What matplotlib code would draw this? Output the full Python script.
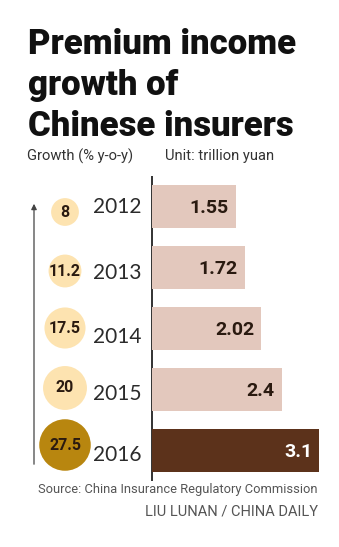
import numpy as np
import matplotlib.pyplot as plt

years = ['2012', '2013', '2014', '2015', '2016']
income = [1.55, 1.72, 2.02, 2.4, 3.1]          # trillion yuan
growth = [8, 11.2, 17.5, 20, 27.5]              # % y-o-y
growth_labels = ['8', '11.2', '17.5', '20', '27.5']

light_bar = '#e3c8bd'
dark_bar = '#5c321b'
light_dot = '#fde3b0'
dark_dot = '#b8860f'

W, H = 339, 547
fig = plt.figure(figsize=(W / 100, H / 100), dpi=100)
ax = fig.add_axes([0, 0, 1, 1])

# pixel layout: zero line at x=152, 54 px per trillion; rows 61 px apart from y=206.5
px_unit = 54.0
x0 = 152.0
row0, row_gap = 206.5, 61.0
ax.set_xlim(-x0 / px_unit, (W - x0) / px_unit)
ax.set_ylim((H - row0) / row_gap, -row0 / row_gap)
ax.axis('off')

def px(x):
    return (x - x0) / px_unit

def py(y):
    return (y - row0) / row_gap

pos = np.arange(len(years))
colors = [light_bar] * (len(years) - 1) + [dark_bar]
ax.barh(pos, income, height=0.71, color=colors, zorder=2)
ax.vlines(0, py(176), py(481), color='#222222', lw=1.3, zorder=1)

for i, v in enumerate(income):
    tc = 'white' if i == len(income) - 1 else '#2a1a10'
    ax.text(v - 0.13, i + 0.03, str(v), ha='right', va='center', fontsize=14,
            fontweight='bold', family='Roboto', color=tc, zorder=3)

# years
year_off = [0.0, 0.09, 0.14, 0.08, 0.07]
for i, y in enumerate(years):
    ax.text(px(141), i + year_off[i], y, ha='right', va='center', fontsize=15,
            family='Lato', color='#2b2b2b')

# growth bubbles
dot_cols = [light_dot] * (len(growth) - 1) + [dark_dot]
dot_y = [py(212), py(271), py(328), py(388), py(445)]
ax.scatter([px(65)] * len(growth), dot_y, s=np.array(growth) * 50,
           color=dot_cols, zorder=2, linewidths=0)
for i, g in enumerate(growth_labels):
    ax.text(px(65), dot_y[i], g, ha='center', va='center', fontsize=11.5,
            fontweight='bold', family='Roboto', color='#2a1a10', zorder=3)

# arrow
ax.annotate('', xy=(px(34), py(201)), xytext=(px(34), py(467)),
            arrowprops=dict(arrowstyle='-|>', color='#444444', lw=0.9,
                            mutation_scale=8))

# titles
for k, line in enumerate(['Premium income', 'growth of', 'Chinese insurers']):
    fig.text(28 / W, 1 - (54 + 41 * k) / H, line, ha='left', va='baseline',
             fontsize=25, fontweight='black', family='Roboto', color='#111111')

fig.text(27 / W, 1 - 156 / H, 'Growth (% y-o-y)', ha='left', va='center',
         fontsize=10.6, family='Roboto', color='#333333')
fig.text(165 / W, 1 - 156 / H, 'Unit: trillion yuan', ha='left', va='center',
         fontsize=10.6, family='Roboto', color='#333333')
fig.text(318 / W, 1 - 490 / H, 'Source: China Insurance Regulatory Commission',
         ha='right', va='center', fontsize=9.3, family='Roboto',
         color='#555555')
fig.text(318 / W, 1 - 512 / H, 'LIU LUNAN / CHINA DAILY', ha='right', va='center',
         fontsize=10.5, family='Roboto', color='#555555')

fig.savefig('out.png', dpi=100, facecolor='white')
